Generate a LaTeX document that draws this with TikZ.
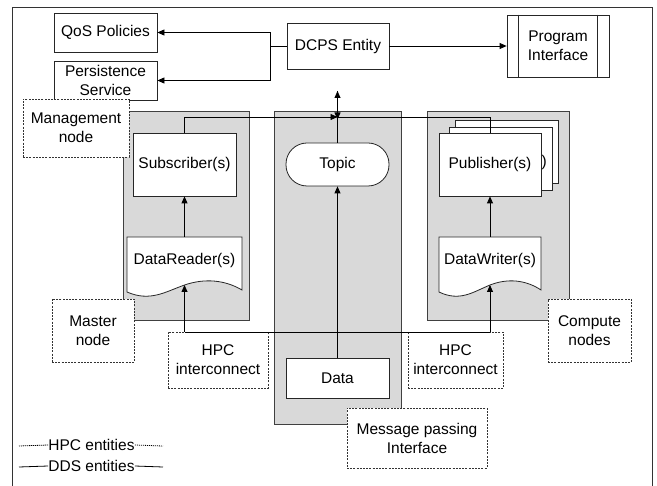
\documentclass[tikz,border=0pt]{standalone}
\usepackage{fontspec}
\setmainfont{Liberation Sans}
\usetikzlibrary{arrows.meta}
\begin{document}
\begin{tikzpicture}[x=1pt,y=-1pt,
  every node/.style={font=\fontsize{15.5}{19}\selectfont, align=center, inner sep=0pt},
  box/.style={draw=black!85, fill=white, line width=0.8pt},
  hpc/.style={draw=black!80, fill=white, dash pattern=on 2pt off 1.2pt, line width=0.8pt},
  panel/.style={draw=black!75, fill=black!15, line width=0.8pt},
  conn/.style={line width=0.8pt},
  arr/.style={conn, -{Triangle[length=7pt,width=6pt]}},
]
\useasboundingbox (0,0) rectangle (657,486);
% frame
\draw[conn, black!80] (12,486) -- (12,7) -- (652,7) -- (652,486);

% panels
\draw[panel] (123,111) rectangle (249,320);
\draw[panel] (274,111) rectangle (401,424);
\draw[panel] (427,111) rectangle (569,320);

% top boxes
\node[box, minimum width=103pt, minimum height=39pt] (qos) at (105.5,32.5) {QoS Policies};
\node[box, minimum width=103pt, minimum height=39pt] (pers) at (105.5,80.5) {Persistence\\Service};
\node[box, minimum width=102pt, minimum height=46pt] (dcps) at (338,46) {DCPS Entity};
\node[box, minimum width=102pt, minimum height=62pt] (prog) at (558,46) {Program\\Interface};
\draw[conn, black!85] ([xshift=12pt]prog.north west) -- ([xshift=12pt]prog.south west);
\draw[conn, black!85] ([xshift=-12pt]prog.north east) -- ([xshift=-12pt]prog.south east);

% dashed HPC entities
\node[hpc, minimum width=106pt, minimum height=58pt] (mgmt) at (76,128) {Management\\node};
\node[hpc, minimum width=82pt, minimum height=63pt] (master) at (93,330.5) {Master\\node};
\node[hpc, minimum width=83pt, minimum height=63pt] (compute) at (589.5,330.5) {Compute\\nodes};
\node[hpc, minimum width=100pt, minimum height=56pt] (hpcL) at (218,360) {HPC\\interconnect};
\node[hpc, minimum width=95pt, minimum height=56pt] (hpcR) at (455.5,360) {HPC\\interconnect};
\node[hpc, minimum width=140pt, minimum height=60pt] (mpi) at (417,438) {Message passing\\Interface};

% DDS boxes
\node[box, minimum width=103pt, minimum height=63pt] (sub) at (184.5,164.5) {Subscriber(s)};
\node[box, rounded corners=21pt, minimum width=103pt, minimum height=43pt] (topic) at (337.5,164.5) {Topic};
\node[box, minimum width=103pt, minimum height=63pt] (pub3) at (506.5,151.5) {};
\node[anchor=east] (p3t) at (554,162) {)};
\node[box, minimum width=103pt, minimum height=63pt] (pub2) at (500.5,158.5) {};
\node[anchor=east] (p2t) at (547,162) {)};
\node[box, minimum width=102pt, minimum height=63pt] (pub) at (490,164.5) {Publisher(s)};
\node[box, minimum width=103pt, minimum height=40pt] (data) at (337.5,378) {Data};

% document shapes
\draw[box] (127,237) -- (242,237) -- (242,290) .. controls (225,280) and (205,278) .. (184.5,285) .. controls (165,292) and (150,302) .. (127,292) -- cycle;
\node (dr) at (184.5,260) {DataReader(s)};
\coordinate (drn) at (184.5,237);
\coordinate (drw) at (184.5,285);
\draw[box] (439,237) -- (541,237) -- (541,290) .. controls (526,280) and (508,278) .. (490,285) .. controls (473,292) and (460,302) .. (439,292) -- cycle;
\node (dw) at (490,260) {DataWriter(s)};
\coordinate (dwn) at (490,237);
\coordinate (dww) at (490,285);

% connectors at top
\coordinate (jL) at (270,46);
\draw[conn] (dcps.west) -- (jL);
\draw[arr] (jL) |- (qos.east);
\draw[arr] (jL) |- (pers.east);
\draw[arr] (dcps.east) -- (prog.west);

% topic junction
\coordinate (jT) at (337.5,117);
\coordinate (jD) at (337.5,119.5);
\coordinate (aTop) at (337.5,91);
\draw[arr] (sub.north) |- (jT);
\draw[conn] (pub.north) |- (jT);
\draw[arr] (topic.north) -- (aTop);
\draw[arr] (aTop) -- (jD);

% vertical connectors
\draw[arr] (drn) -- (sub.south);
\draw[arr] (dwn) -- (pub.south);
\draw[arr] (data.north) -- (topic.south);

% HPC interconnect line
\coordinate (hL) at (184.5,332);
\coordinate (hR) at (490,332);
\draw[conn] (hL) -- (hR);
\draw[arr] (hL) -- (drw);
\draw[arr] (hR) -- (dww);

% legend
\node (lh) at (91.5,445) {HPC entities};
\coordinate (lh1) at (19,446);
\coordinate (lh2) at (163,446);
\draw[conn, dash pattern=on 1.2pt off 0.8pt] (lh1) -- (lh.west);
\draw[conn, dash pattern=on 1.2pt off 0.8pt] (lh.east) -- (lh2);
\node (ld) at (91.5,466) {DDS entities};
\coordinate (ld1) at (19,467);
\coordinate (ld2) at (163,467);
\draw[conn] (ld1) -- (ld.west);
\draw[conn] (ld.east) -- (ld2);
\end{tikzpicture}
\end{document}
